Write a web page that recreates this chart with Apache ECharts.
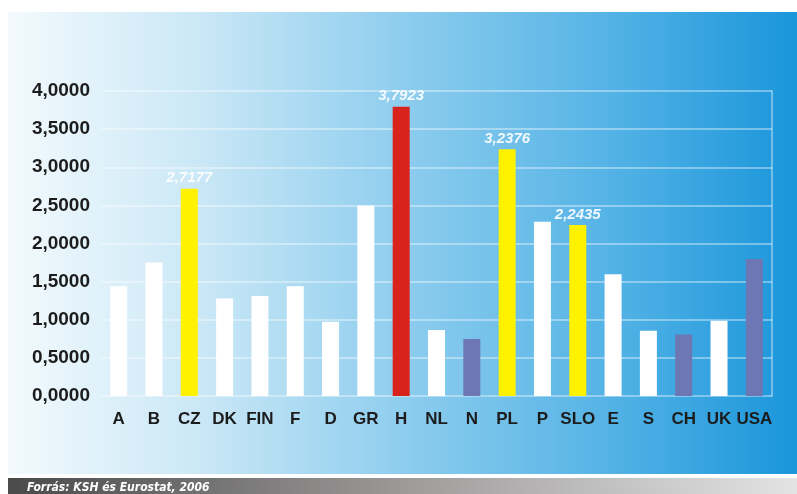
<!DOCTYPE html>
<html>
<head>
<meta charset="utf-8">
<script src="https://cdn.jsdelivr.net/npm/echarts@6/dist/echarts.min.js"></script>
<style>
  html, body { margin: 0; padding: 0; background: #ffffff; }
  #chart { width: 797px; height: 494px; }
</style>
</head>
<body>
<div id="chart"></div>
<script>
// Countries along the x axis
const countries = ['A', 'B', 'CZ', 'DK', 'FIN', 'F', 'D', 'GR', 'H', 'NL', 'N', 'PL', 'P', 'SLO', 'E', 'S', 'CH', 'UK', 'USA'];
// Values per country
const values = [1.44, 1.75, 2.7177, 1.28, 1.31, 1.44, 0.975, 2.50, 3.7923, 0.866, 0.748, 3.2376, 2.286, 2.2435, 1.596, 0.857, 0.805, 0.988, 1.797];
// Bar colour group per country: w = white, y = yellow, r = red, p = slate
const groups = ['w', 'w', 'y', 'w', 'w', 'w', 'w', 'w', 'r', 'w', 'p', 'y', 'w', 'y', 'w', 'w', 'p', 'w', 'p'];
// Countries whose value is printed above the bar
const labelled = ['CZ', 'H', 'PL', 'SLO'];
// Y axis tick labels
const yTickLabels = ['0,0000', '0,5000', '1,0000', '1,5000', '2,0000', '2,5000', '3,0000', '3,5000', '4,0000'];
const sourceText = 'Forrás: KSH és Eurostat, 2006';

const palette = { w: '#ffffff', y: '#fff200', r: '#d8231c', p: '#6c77b3' };
const fmt = v => v.toFixed(4).replace('.', ',');

const chart = echarts.init(document.getElementById('chart'), null, { renderer: 'canvas' });

const barData = values.map((v, i) => ({
  value: v,
  itemStyle: { color: palette[groups[i]] },
  label: {
    show: labelled.indexOf(countries[i]) !== -1,
    position: 'top',
    distance: 3,
    formatter: p => fmt(p.value),
    color: 'rgba(255,255,255,0.9)',
    fontFamily: 'Liberation Sans, Arial, sans-serif',
    fontWeight: 'bold',
    fontStyle: 'italic',
    fontSize: 15
  }
}));

chart.setOption({
  backgroundColor: '#ffffff',
  animation: false,
  graphic: [
    {
      type: 'rect',
      z: -10,
      shape: { x: 8, y: 12, width: 789, height: 462 },
      style: {
        fill: new echarts.graphic.LinearGradient(0, 0, 1, 0, [
          { offset: 0, color: '#f3fafd' },
          { offset: 0.25, color: '#c9e7f6' },
          { offset: 0.5, color: '#8ecdee' },
          { offset: 0.75, color: '#57b4e6' },
          { offset: 1, color: '#1a96db' }
        ])
      }
    },
    {
      type: 'rect',
      z: -10,
      shape: { x: 8, y: 478, width: 789, height: 16 },
      style: {
        fill: new echarts.graphic.LinearGradient(0, 0, 1, 0, [
          { offset: 0, color: '#4a4a4a' },
          { offset: 0.5, color: '#9c9a99' },
          { offset: 1, color: '#e4e4e4' }
        ])
      }
    },
    {
      type: 'text',
      z: 10,
      left: 27,
      top: 482,
      style: {
        text: sourceText,
        fill: '#ffffff',
        font: 'italic bold 12px "Liberation Sans Narrow", "DejaVu Sans Condensed", "Liberation Sans", Arial, sans-serif'
      }
    }
  ],
  grid: { left: 101, right: 25, top: 91, bottom: 98, containLabel: false },
  xAxis: {
    type: 'category',
    data: countries,
    axisLine: { show: false },
    axisTick: { show: false },
    axisLabel: {
      margin: 15,
      color: '#1c1c1c',
      fontFamily: 'Liberation Sans, Arial, sans-serif',
      fontWeight: 'bold',
      fontSize: 17,
      interval: 0
    }
  },
  yAxis: [
    {
      type: 'value',
      min: 0,
      max: 4,
      interval: 0.5,
      axisLine: { show: false },
      axisTick: { show: false },
      splitLine: { show: true, lineStyle: { color: 'rgba(255,255,255,0.5)', width: 1.5 } },
      axisLabel: {
        margin: 11,
        color: '#1c1c1c',
        fontFamily: 'Liberation Sans, Arial, sans-serif',
        fontWeight: 'bold',
        fontSize: 19,
        formatter: v => yTickLabels[Math.round(v / 0.5)]
      }
    },
    {
      type: 'value',
      position: 'right',
      min: 0,
      max: 4,
      interval: 0.5,
      axisLine: { show: true, lineStyle: { color: 'rgba(255,255,255,0.5)', width: 1.5 } },
      axisTick: { show: false },
      axisLabel: { show: false },
      splitLine: { show: false }
    }
  ],
  series: [
    {
      type: 'bar',
      yAxisIndex: 0,
      barWidth: 17,
      data: barData
    }
  ]
});
</script>
</body>
</html>
